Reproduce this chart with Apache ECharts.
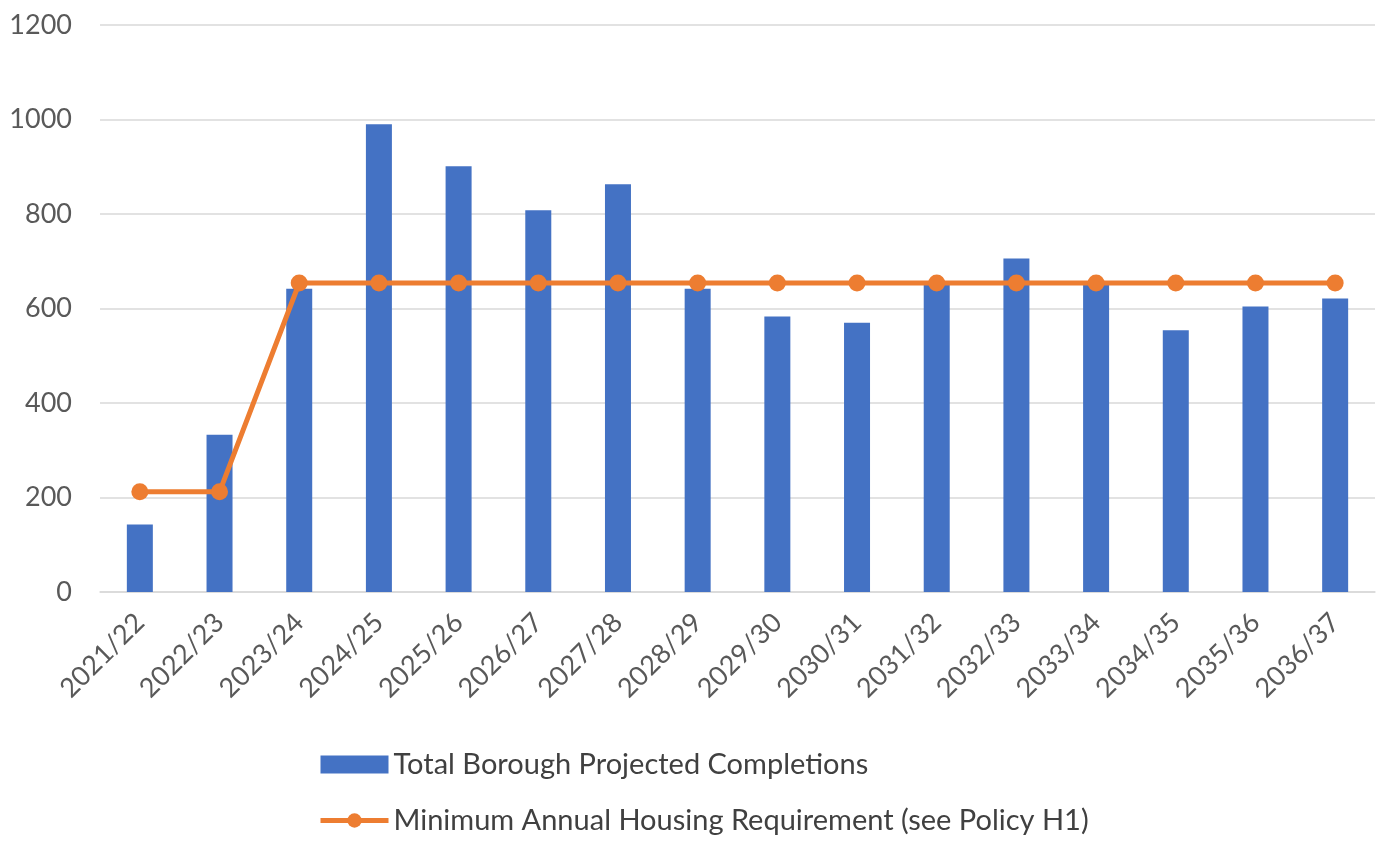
<!DOCTYPE html>
<html>
<head>
<meta charset="utf-8">
<script src="https://cdn.jsdelivr.net/npm/echarts@6/dist/echarts.min.js"></script>
<style>
  html, body { margin: 0; padding: 0; background: #ffffff; }
  #chart { width: 1381px; height: 841px; }
</style>
</head>
<body>
<div id="chart"></div>
<script>
// Housing trajectory: projected completions against the annual requirement
const years = ['2021/22', '2022/23', '2023/24', '2024/25', '2025/26', '2026/27', '2027/28', '2028/29',
               '2029/30', '2030/31', '2031/32', '2032/33', '2033/34', '2034/35', '2035/36', '2036/37'];
const completions = [143, 333, 642, 990, 901, 808, 863, 642, 583, 570, 651, 706, 651, 554, 604, 621];
const requirement = [212, 212, 654, 654, 654, 654, 654, 654, 654, 654, 654, 654, 654, 654, 654, 654];
const yTicks = [0, 200, 400, 600, 800, 1000, 1200];

const completionsName = 'Total Borough Projected Completions';
const requirementName = 'Minimum Annual Housing Requirement (see Policy H1)';

const textColor = '#595959';
const legendColor = '#404040';
const fontFamily = 'Lato, "Noto Sans", sans-serif';

const chart = echarts.init(document.getElementById('chart'), null, { renderer: 'canvas' });
chart.setOption({
  animation: false,
  backgroundColor: '#ffffff',
  textStyle: { fontFamily: fontFamily },
  grid: { left: 100, right: 6, top: 25, bottom: 249, containLabel: false },
  legend: {
    orient: 'vertical',
    left: 318,
    top: 750,
    height: 120,
    padding: 0,
    itemWidth: 68,
    itemHeight: 18,
    itemGap: 27,
    textStyle: { color: legendColor, fontSize: 29, fontFamily: fontFamily },
    data: [
      { name: completionsName, icon: 'rect' },
      { name: requirementName, lineStyle: { width: 5 }, itemStyle: { color: '#ED7D31' } }
    ]
  },
  xAxis: {
    type: 'category',
    data: years,
    axisLine: { show: true, lineStyle: { color: '#d9d9d9', width: 1.5 } },
    axisTick: { show: false },
    axisLabel: {
      rotate: 45,
      margin: 26,
      interval: 0,
      color: textColor,
      fontSize: 27,
      fontFamily: fontFamily
    }
  },
  yAxis: {
    type: 'value',
    min: yTicks[0],
    max: yTicks[yTicks.length - 1],
    interval: yTicks[1] - yTicks[0],
    axisLine: { show: false },
    axisTick: { show: false },
    splitLine: { lineStyle: { color: '#d9d9d9', width: 1.5 } },
    axisLabel: {
      margin: 28,
      color: textColor,
      fontSize: 27,
      fontFamily: fontFamily,
      formatter: function (v) { return String(v); }
    }
  },
  series: [
    {
      name: completionsName,
      type: 'bar',
      data: completions,
      barWidth: 26,
      itemStyle: { color: '#4472C4' },
      z: 2
    },
    {
      name: requirementName,
      type: 'line',
      data: requirement,
      symbol: 'circle',
      symbolSize: 17,
      lineStyle: { color: '#ED7D31', width: 5 },
      itemStyle: { color: '#ED7D31' },
      z: 3
    }
  ]
});
</script>
</body>
</html>
